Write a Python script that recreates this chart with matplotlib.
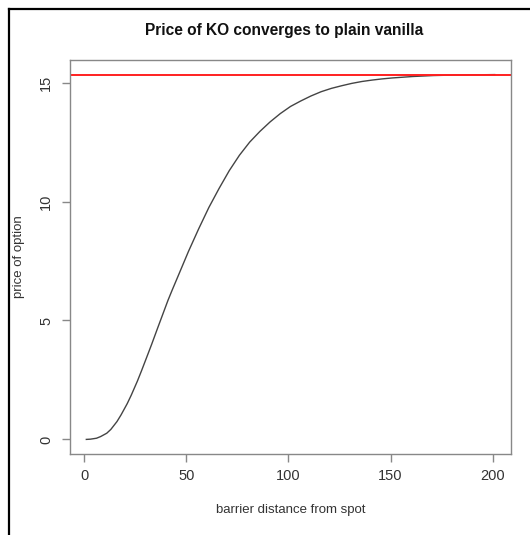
import matplotlib
matplotlib.use("Agg")
import matplotlib.pyplot as plt
from matplotlib.lines import Line2D

plt.rcParams['font.family'] = ['Liberation Sans', 'DejaVu Sans']

barrier = [1, 3, 6, 8, 11, 13, 16, 18, 21, 23, 26, 28, 31, 33, 36, 38, 41, 43, 46, 51, 56,
           61, 66, 71, 76, 81, 86, 91, 96, 101, 106, 111, 116, 121, 126, 131, 136, 141, 146,
           151, 156, 161, 166, 171, 176, 181, 186, 191, 196, 201]
price = [0.00, 0.01, 0.05, 0.12, 0.26, 0.42, 0.75, 1.03, 1.50, 1.86, 2.45, 2.88, 3.55, 4.00,
         4.70, 5.16, 5.85, 6.27, 6.88, 7.90, 8.85, 9.75, 10.55, 11.30, 11.95, 12.50, 12.95,
         13.35, 13.70, 14.00, 14.23, 14.44, 14.62, 14.76, 14.87, 14.97, 15.05, 15.11, 15.16,
         15.20, 15.23, 15.26, 15.28, 15.30, 15.31, 15.32, 15.325, 15.33, 15.335, 15.34]
vanilla = 15.34
xticks = [0, 50, 100, 150, 200]
yticks = [0, 5, 10, 15]

W, H = 530, 535
fig = plt.figure(figsize=(W / 100, H / 100), dpi=100)
ax = fig.add_axes([70 / W, 1 - 454 / H, (511 - 70) / W, (454 - 60) / H])

ax.plot(barrier, price, color='#444444', lw=1.0)
ax.axhline(vanilla, color='#ff2020', lw=1.4)

xr = max(barrier) - min(barrier)
ax.set_xlim(min(barrier) - 0.04 * xr, max(barrier) + 0.04 * xr)
yr = max(price) - min(price)
ax.set_ylim(min(price) - 0.04 * yr, max(price) + 0.04 * yr)

ax.set_xticks(xticks)
ax.set_xticklabels([str(t) for t in xticks])
ax.set_yticks(yticks)
ax.set_yticklabels([str(t) for t in yticks], rotation=90, va='center')

for s in ax.spines.values():
    s.set_color('#888888')
    s.set_linewidth(1.0)
ax.tick_params(axis='both', length=6, width=1.0, color='#888888', labelcolor='#333333',
               labelsize=10.5)
ax.tick_params(axis='x', pad=5)
ax.tick_params(axis='y', pad=6)

ax.set_xlabel('barrier distance from spot', fontsize=9.5, color='#333333')
ax.set_ylabel('price of option', fontsize=9.5, color='#333333')
ax.xaxis.set_label_coords(0.5, (454 - 510) / 394)
ax.yaxis.set_label_coords((19 - 70) / 441, 0.5)
ax.xaxis.label.set_va('center')
ax.yaxis.label.set_va('center')
fig.text(284 / W, 1 - 30 / H, 'Price of KO converges to plain vanilla', ha='center',
         va='center', fontsize=11.2, fontweight='bold', color='#111111')

# screenshot frame (top and left)
fig.add_artist(Line2D([9 / W, 9 / W], [0, 1 - 9 / H], transform=fig.transFigure,
                      color='black', lw=1.6))
fig.add_artist(Line2D([9 / W, 1], [1 - 9 / H, 1 - 9 / H], transform=fig.transFigure,
                      color='black', lw=1.6))

fig.savefig('out.png', dpi=100)
